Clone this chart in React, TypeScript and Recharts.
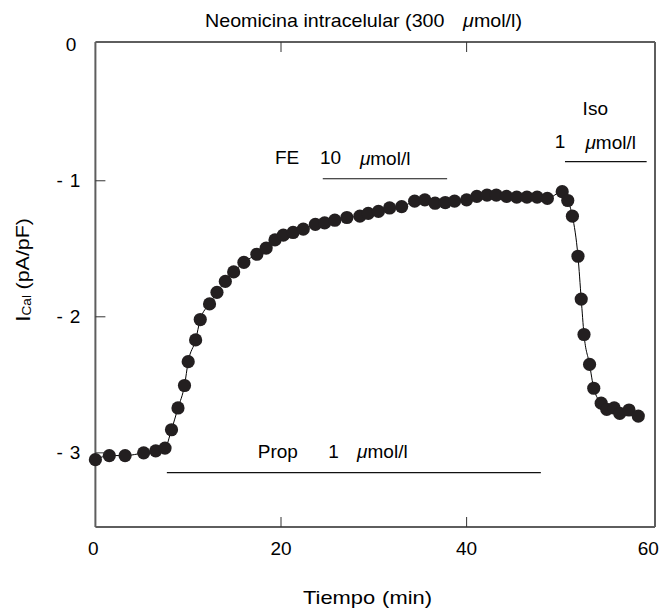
import React from 'react';
import { LineChart, Line, XAxis, YAxis, ReferenceLine, ReferenceDot } from 'recharts';

// Time (min)
const timeMin = [
  0, 1.5, 3.2, 5.2, 6.5, 7.5, 8.2, 8.9, 9.6, 10.0, 10.8, 11.3, 12.3, 13.1, 14.0, 14.9,
  16.0, 17.4, 18.4, 19.35, 20.25, 21.3, 22.4, 23.7, 24.7, 25.8, 27.1, 28.5, 29.4, 30.5,
  31.7, 33.0, 34.4, 35.5, 36.6, 37.7, 38.7, 40.0, 41.1, 42.2, 43.2, 44.3, 45.4, 46.5,
  47.6, 48.7, 50.3, 50.9, 51.4, 52.0, 52.35, 52.65, 53.25, 53.7, 54.5, 55.1, 55.9, 56.5,
  57.5, 58.5,
];
// I_Cal (pA/pF)
const icalValues = [
  -3.05, -3.02, -3.02, -3.0, -2.985, -2.965, -2.83, -2.67, -2.505, -2.33, -2.17, -2.02,
  -1.905, -1.82, -1.74, -1.67, -1.6, -1.54, -1.495, -1.435, -1.4, -1.38, -1.355, -1.32,
  -1.31, -1.29, -1.27, -1.26, -1.24, -1.225, -1.2, -1.19, -1.15, -1.14, -1.165, -1.16,
  -1.15, -1.14, -1.115, -1.105, -1.105, -1.115, -1.12, -1.12, -1.12, -1.13, -1.08, -1.145,
  -1.26, -1.555, -1.87, -2.13, -2.35, -2.525, -2.635, -2.68, -2.67, -2.71, -2.685, -2.73,
];

const xTicks = [0, 20, 40, 60];
const yTicks = [0, -1, -2, -3];
const xDomain: [number, number] = [0, 60.3];
const yDomain: [number, number] = [-3.545, 0.02];

// drug application bars (min, pA/pF)
const drugBars = [
  { id: 'prop', x1: 7.7, x2: 48.0, y: -3.145 },
  { id: 'fe', x1: 24.5, x2: 37.9, y: -0.985 },
  { id: 'iso', x1: 50.6, x2: 59.4, y: -0.86 },
];
const drugLabels = [
  { text: 'Prop', x: 17.5, y: -2.99 },
  { text: '1', x: 25.1, y: -2.99 },
  { text: 'μmol/l', x: 28.2, y: -2.99 },
  { text: 'FE', x: 19.35, y: -0.83 },
  { text: '10', x: 24.2, y: -0.83 },
  { text: 'μmol/l', x: 28.5, y: -0.83 },
  { text: 'Iso', x: 52.5, y: -0.47 },
  { text: '1', x: 49.5, y: -0.715 },
  { text: 'μmol/l', x: 52.8, y: -0.715 },
];

const data = timeMin.map((t, i) => ({ t, y: icalValues[i] }));

const FONT = '"Liberation Sans", Arial, Helvetica, sans-serif';
const AXIS = '#5e5e5e';
const TICK = '#333';
const FS = 19;

const MuText = ({ text }: { text: string }) =>
  text.startsWith('μ') ? (
    <>
      <tspan fontStyle="italic">μ</tspan>
      <tspan>{text.slice(1)}</tspan>
    </>
  ) : (
    <>{text}</>
  );

const BottomTick = (props: any) => {
  const { x, y, payload } = props;
  const v = payload.value;
  const inner = v !== 0 && v !== 60;
  return (
    <g>
      {inner && <line x1={x} y1={y} x2={x} y2={y - 10} stroke={TICK} strokeWidth={1} />}
      <text x={v === 0 ? x - 2 : v === 60 ? x - 4 : x} y={y + 21} textAnchor="middle" dominantBaseline="central" fontFamily={FONT} fontSize={FS} fill="#000">
        {v}
      </text>
    </g>
  );
};

const TopTick = (props: any) => {
  const { x, y, payload } = props;
  const v = payload.value;
  if (v === 0 || v === 60) return <g />;
  return <line x1={x} y1={y} x2={x} y2={y + 10} stroke={TICK} strokeWidth={1} />;
};

const LeftTick = (props: any) => {
  const { x, y, payload } = props;
  const v = payload.value;
  return (
    <g>
      {v !== 0 && <line x1={x} y1={y} x2={x + 10} y2={y} stroke={TICK} strokeWidth={1} />}
      {v !== 0 && (
        <text x={x - 39} y={y} textAnchor="start" dominantBaseline="central" fontFamily={FONT} fontSize={FS} fill="#000">
          -
        </text>
      )}
      <text x={v === 0 ? x - 19 : x - 15} y={y} textAnchor="end" dominantBaseline="central" fontFamily={FONT} fontSize={FS} fill="#000">
        {Math.abs(v)}
      </text>
    </g>
  );
};

const RightTick = (props: any) => {
  const { x, y, payload } = props;
  const v = payload.value;
  if (v === 0) return <g />;
  return <line x1={x} y1={y} x2={x - 10} y2={y} stroke={TICK} strokeWidth={1} />;
};

export default function App() {
  return (
    <div style={{ position: 'absolute', left: 0, top: 0, width: 663, height: 608, background: '#fff' }}>
      <LineChart width={663} height={608} data={data} margin={{ top: 0, right: 0, bottom: 0, left: 0 }}>
        <XAxis
          xAxisId="b"
          dataKey="t"
          type="number"
          domain={xDomain}
          ticks={xTicks}
          interval={0}
          orientation="bottom"
          height={81}
          tickSize={0}
          tickMargin={0}
          tickLine={false}
          axisLine={{ stroke: AXIS, strokeWidth: 2 }}
          tick={<BottomTick />}
        />
        <XAxis
          xAxisId="t"
          dataKey="t"
          type="number"
          domain={xDomain}
          ticks={xTicks}
          interval={0}
          orientation="top"
          height={42}
          tickSize={0}
          tickMargin={0}
          tickLine={false}
          axisLine={{ stroke: AXIS, strokeWidth: 2 }}
          tick={<TopTick />}
        />
        <YAxis
          yAxisId="l"
          type="number"
          domain={yDomain}
          ticks={yTicks}
          interval={0}
          orientation="left"
          width={95.4}
          tickSize={0}
          tickMargin={0}
          tickLine={false}
          axisLine={{ stroke: AXIS, strokeWidth: 2 }}
          tick={<LeftTick />}
        />
        <YAxis
          yAxisId="r"
          type="number"
          domain={yDomain}
          ticks={yTicks}
          interval={0}
          orientation="right"
          width={8}
          tickSize={0}
          tickMargin={0}
          tickLine={false}
          axisLine={{ stroke: AXIS, strokeWidth: 2 }}
          tick={<RightTick />}
        />
        {drugBars.map((b) => (
          <ReferenceLine
            key={b.id}
            xAxisId="b"
            yAxisId="l"
            segment={[
              { x: b.x1, y: b.y },
              { x: b.x2, y: b.y },
            ]}
            stroke="#111"
            strokeWidth={1.2}
            ifOverflow="visible"
          />
        ))}
        {drugLabels.map((l, i) => (
          <ReferenceDot
            key={i}
            xAxisId="b"
            yAxisId="l"
            x={l.x}
            y={l.y}
            r={0}
            ifOverflow="visible"
            shape={(p: any) => (
              <text x={p.cx} y={p.cy} textAnchor="start" dominantBaseline="central" fontFamily={FONT} fontSize={FS} fill="#000">
                <MuText text={l.text} />
              </text>
            )}
          />
        ))}
        <Line
          xAxisId="b"
          yAxisId="l"
          dataKey="y"
          type="monotone"
          stroke="#000"
          strokeWidth={1}
          dot={{ r: 6.6, fill: '#231f20', stroke: '#231f20', strokeWidth: 0 }}
          activeDot={false}
          isAnimationActive={false}
        />
      </LineChart>
      <svg width={663} height={608} style={{ position: 'absolute', left: 0, top: 0, pointerEvents: 'none' }}>
        <text x={363.5} y={20} textAnchor="middle" dominantBaseline="central" fontFamily={FONT} fontSize={FS} fill="#000" textLength={317} lengthAdjust="spacingAndGlyphs">
          Neomicina intracelular (300
          <tspan dx={18} fontStyle="italic">μ</tspan>
          <tspan>mol/l)</tspan>
        </text>
        <text x={367.5} y={597} textAnchor="middle" dominantBaseline="central" fontFamily={FONT} fontSize={FS} fill="#000" textLength={129} lengthAdjust="spacingAndGlyphs">
          Tiempo
          <tspan dx={6}>(min)</tspan>
        </text>
        <text transform="translate(22, 270) rotate(-90)" x={0} y={0} textAnchor="middle" dominantBaseline="central" fontFamily={FONT} fontSize={FS} fill="#000" textLength={104} lengthAdjust="spacingAndGlyphs">
          <tspan fontSize={21}>I</tspan>
          <tspan fontSize={12} dy={5}>Cal</tspan>
          <tspan dy={-5} dx={5}>(pA/pF)</tspan>
        </text>
      </svg>
    </div>
  );
}
